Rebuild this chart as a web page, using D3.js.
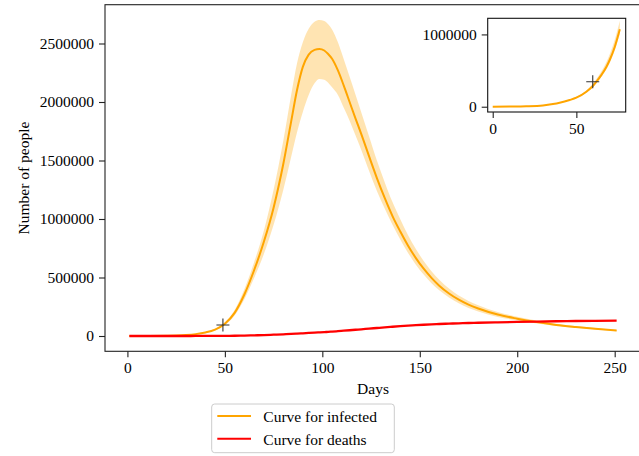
<!DOCTYPE html>
<html><head><meta charset="utf-8">
<script src="https://cdn.jsdelivr.net/npm/d3@7"></script>
<style>
html,body{margin:0;padding:0;background:#fff;}
svg{display:block;}
text{font-family:"Liberation Serif","DejaVu Serif",serif;fill:#000;}
</style></head>
<body>
<svg id="chart" width="639" height="456"></svg>
<script>
// ---- data ----
const days = [1,10,20,25,30,35,40,45,50,55,60,65,70,75,80,84,87,90,93,96,98.5,101,103,105,108,111,114,117,120,124,128,132,136,140,144,148,152,156,160,165,170,175,180,190,200,210,220,230,240,251];
const infected = [300,800,2500,4500,8500,16000,30000,55000,105000,198000,355000,562000,805000,1097000,1472000,1832000,2100000,2300000,2405000,2445000,2453000,2440000,2410000,2370000,2270000,2140000,2000000,1860000,1725000,1535000,1350000,1180000,1025000,893000,772000,666000,575000,497000,430000,363000,310000,268000,235000,183000,148000,119000,95000,77000,61000,46000];
const infectedUpper = [330,880,2750,5000,9400,17700,33000,61000,117000,222000,400000,630000,900000,1250000,1670000,2060000,2330000,2510000,2625000,2685000,2700000,2692000,2665000,2620000,2510000,2365000,2215000,2065000,1910000,1705000,1500000,1315000,1145000,998000,862000,743000,641000,554000,480000,405000,346000,300000,263000,205000,165000,132000,105000,85000,67500,51000];
const infectedLower = [270,720,2250,4050,7650,14400,27000,49500,94000,176000,315000,495000,700000,950000,1250000,1530000,1740000,1915000,2060000,2160000,2197000,2190000,2165000,2125000,2060000,1950000,1840000,1715000,1590000,1410000,1240000,1090000,950000,825000,710000,610000,525000,450000,390000,328000,280000,240000,210000,163000,132000,107000,86000,70000,55500,41500];
const deaths = [0,0,50,100,150,250,400,700,1200,2000,3500,5500,8000,11000,14500,17700,20300,23000,26000,28800,30800,33000,35300,37500,41300,45200,49200,53300,57300,63000,68400,73800,79000,84000,88500,92600,96300,99600,102500,105700,108500,111000,113200,117000,120500,123600,126200,128300,130000,131500];
const markerDay = [49];
const markerValue = [94000];

const insetDays = [0,10,20,30,36,40,46,50,56,60,62,65,68,70,73,76];
const insetInfected = [0,2000,6000,18000,37000,55000,93000,125000,207000,290000,346000,440000,553000,650000,830000,1070000];
const insetUpper = [0,2100,6400,19500,40000,60000,101000,137000,228000,320000,383000,490000,620000,730000,930000,1190000];
const insetLower = [0,1900,5700,17000,35000,52000,88000,118000,195000,272000,325000,414000,520000,610000,780000,1005000];
const insetMarkerDay = [59.8];
const insetMarkerValue = [346000];

const yTicks = [0,500000,1000000,1500000,2000000,2500000];
const xTicks = [0,50,100,150,200,250];
const insetYTicks = [0,1000000];
const insetXTicks = [0,50];
const legendLabels = ["Curve for infected","Curve for deaths"];
const xLabel = "Days";
const yLabel = "Number of people";

// ---- drawing ----
const svg = d3.select("#chart");
const FS = 15.5;
const ORANGE = "#FFA500", RED = "#FF0000";

const x = d3.scaleLinear().domain([-11.5, 263.5]).range([105, 641]);
const y = d3.scaleLinear().domain([-130770, 2831600]).range([351.3, 4.7]);

const main = svg.append("g");
const idx = d3.range(days.length);
const curve = d3.curveMonotoneX;

main.append("path")
  .attr("d", d3.area().curve(curve)
    .x(i => x(days[i])).y0(i => y(infectedLower[i])).y1(i => y(infectedUpper[i]))(idx))
  .attr("fill", ORANGE).attr("fill-opacity", 0.3).attr("stroke", "none");
main.append("path")
  .attr("d", d3.line().curve(curve).x(i => x(days[i])).y(i => y(infected[i]))(idx))
  .attr("fill", "none").attr("stroke", ORANGE).attr("stroke-width", 2);
main.append("path")
  .attr("d", d3.line().curve(curve).x(i => x(days[i])).y(i => y(deaths[i]))(idx))
  .attr("fill", "none").attr("stroke", RED).attr("stroke-width", 2.3);
markerDay.forEach((d, i) => {
  const cx = x(d), cy = y(markerValue[i]);
  main.append("path").attr("d", `M${cx-6.5},${cy}H${cx+6.5}M${cx},${cy-6.5}V${cy+6.5}`)
    .attr("stroke", "#333").attr("stroke-width", 1.1).attr("fill", "none");
});

main.append("rect").attr("x", 105).attr("y", 4.7).attr("width", 536).attr("height", 346.6)
  .attr("fill", "none").attr("stroke", "#222").attr("stroke-width", 1.1);

const yAxis = d3.axisLeft(y).tickValues(yTicks).tickFormat(d3.format("d")).tickSize(6).tickPadding(5);
const xAxis = d3.axisBottom(x).tickValues(xTicks).tickFormat(d3.format("d")).tickSize(6).tickPadding(5);
function styleAxis(g) {
  g.select(".domain").remove();
  g.selectAll(".tick line").attr("stroke", "#222").attr("stroke-width", 1.1);
  g.selectAll(".tick text").attr("font-size", FS).attr("font-family", '"Liberation Serif",serif').attr("fill", "#000");
}
main.append("g").attr("transform", "translate(105,0)").call(yAxis).call(styleAxis);
main.append("g").attr("transform", "translate(0,351.3)").call(xAxis).call(styleAxis);

main.append("text").attr("x", 373).attr("y", 394).attr("text-anchor", "middle").attr("font-size", FS).text(xLabel);
main.append("text").attr("transform", "translate(29,178) rotate(-90)").attr("text-anchor", "middle").attr("font-size", FS).text(yLabel);

// ---- inset ----
const ix = d3.scaleLinear().domain([-3, 79.5]).range([487.7, 625.7]);
const iy = d3.scaleLinear().domain([-73000, 1223000]).range([112, 18.3]);
const inset = svg.append("g");
inset.append("rect").attr("x", 487.7).attr("y", 18.3).attr("width", 138).attr("height", 93.7).attr("fill", "#fff");
const iidx = d3.range(insetDays.length);
svg.append("clipPath").attr("id", "insetclip").append("rect").attr("x", 487.7).attr("y", 18.3).attr("width", 138).attr("height", 93.7);
const ip = inset.append("g").attr("clip-path", "url(#insetclip)");
ip.append("path")
  .attr("d", d3.area().curve(curve).x(i => ix(insetDays[i])).y0(i => iy(insetLower[i])).y1(i => iy(insetUpper[i]))(iidx))
  .attr("fill", ORANGE).attr("fill-opacity", 0.3);
ip.append("path")
  .attr("d", d3.line().curve(curve).x(i => ix(insetDays[i])).y(i => iy(insetInfected[i]))(iidx))
  .attr("fill", "none").attr("stroke", ORANGE).attr("stroke-width", 2);
insetMarkerDay.forEach((d, i) => {
  const cx = ix(d), cy = iy(insetMarkerValue[i]);
  inset.append("path").attr("d", `M${cx-6.5},${cy}H${cx+6.5}M${cx},${cy-6.5}V${cy+6.5}`)
    .attr("stroke", "#333").attr("stroke-width", 1.1).attr("fill", "none");
});
inset.append("rect").attr("x", 487.7).attr("y", 18.3).attr("width", 138).attr("height", 93.7)
  .attr("fill", "none").attr("stroke", "#111").attr("stroke-width", 1.1);
inset.append("g").attr("transform", "translate(487.7,0)")
  .call(d3.axisLeft(iy).tickValues(insetYTicks).tickFormat(d3.format("d")).tickSize(6).tickPadding(5)).call(styleAxis);
inset.append("g").attr("transform", "translate(0,112)")
  .call(d3.axisBottom(ix).tickValues(insetXTicks).tickFormat(d3.format("d")).tickSize(6).tickPadding(5)).call(styleAxis);

// ---- legend ----
const lg = svg.append("g");
lg.append("rect").attr("x", 211.7).attr("y", 404).attr("width", 182.6).attr("height", 48.7).attr("rx", 3)
  .attr("fill", "#fff").attr("fill-opacity", 0.8).attr("stroke", "#cccccc").attr("stroke-width", 1);
[ORANGE, RED].forEach((c, i) => {
  const yy = 416 + i * 22.7;
  lg.append("line").attr("x1", 217.3).attr("x2", 251).attr("y1", yy).attr("y2", yy)
    .attr("stroke", c).attr("stroke-width", 2);
  lg.append("text").attr("x", 263.3).attr("y", yy + 6).attr("font-size", FS).text(legendLabels[i]);
});
</script>
</body></html>
